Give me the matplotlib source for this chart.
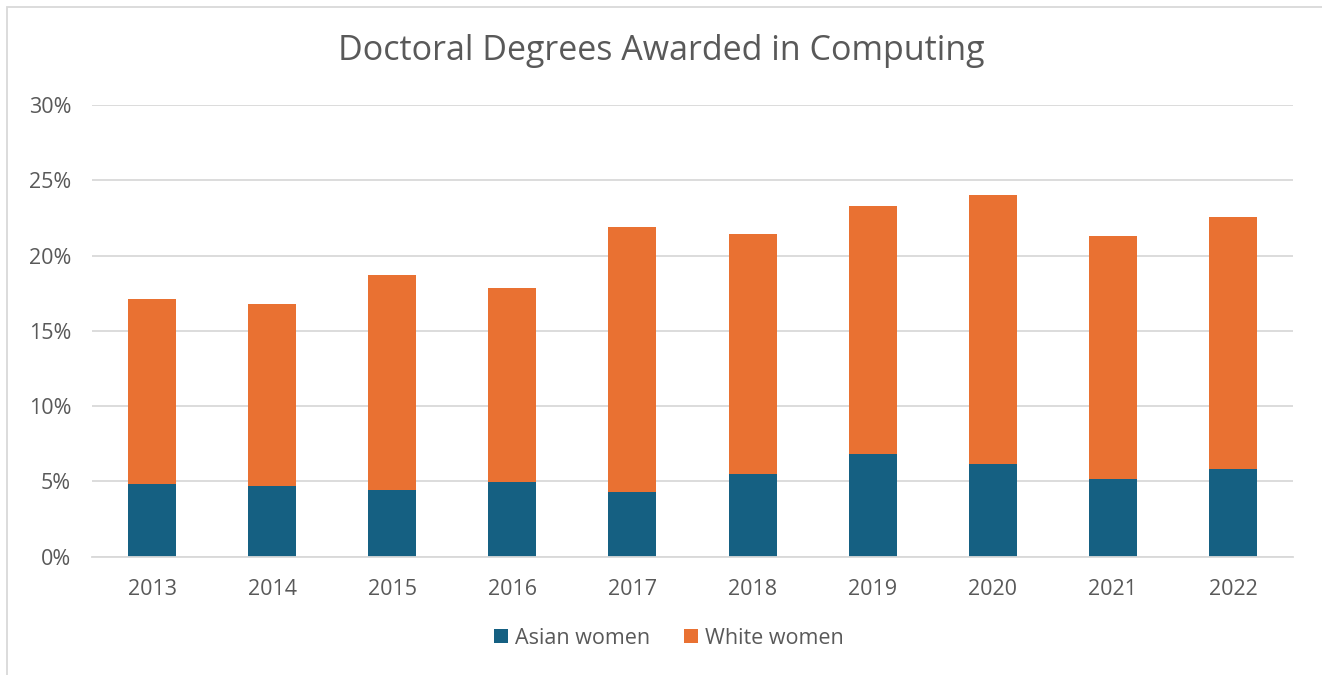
import numpy as np
import matplotlib
matplotlib.use('Agg')
import matplotlib.pyplot as plt
from matplotlib.patches import Rectangle
from matplotlib.ticker import PercentFormatter

# Share of doctoral degrees in computing (percent)
years = ['2013', '2014', '2015', '2016', '2017', '2018', '2019', '2020', '2021', '2022']
asian_women = [4.80, 4.67, 4.45, 4.96, 4.33, 5.47, 6.80, 6.13, 5.13, 5.80]
total_women = [17.11, 16.78, 18.71, 17.85, 21.89, 21.43, 23.27, 24.05, 21.33, 22.58]
white_women = [t - a for t, a in zip(total_women, asian_women)]

text_color = '#595959'
grid_color = '#D9D9D9'
plt.rcParams['font.family'] = ['Open Sans', 'DejaVu Sans']

fig = plt.figure(figsize=(13.22, 6.75), dpi=100)
ax = fig.add_axes([92 / 1322, 1 - 556.7 / 675, (1293 - 92) / 1322, (556.7 - 105) / 675])

x = np.arange(len(years))
ax.bar(x, asian_women, width=0.4, color='#156082', label='Asian women', zorder=3)
ax.bar(x, white_women, width=0.4, bottom=asian_women, color='#E97132', label='White women', zorder=3)

# Axes and grid styling
ax.set_xlim(-0.5, len(years) - 0.5)
ax.set_ylim(0, 30)
ax.set_yticks(np.arange(0, 31, 5))
ax.yaxis.set_major_formatter(PercentFormatter(decimals=0))
ax.set_xticks(x)
ax.set_xticklabels(years)
ax.yaxis.grid(True, color=grid_color, linewidth=1.3, zorder=0)
for side in ['top', 'right', 'left']:
    ax.spines[side].set_visible(False)
ax.spines['bottom'].set_color(grid_color)
ax.spines['bottom'].set_linewidth(1.3)
ax.spines['bottom'].set_zorder(4)
ax.tick_params(axis='both', length=0, labelsize=15.5, labelcolor=text_color)
ax.tick_params(axis='x', pad=16)
ax.tick_params(axis='y', pad=15)

fig.text(0.5, 1 - 51 / 675, 'Doctoral Degrees Awarded in Computing', ha='center', va='center',
         fontsize=24.5, color=text_color)

leg = fig.legend(loc='center', bbox_to_anchor=(669 / 1322, 1 - 638 / 675), ncol=2, frameon=False,
                 fontsize=15.5, handlelength=0.65, handleheight=0.65, handletextpad=0.3, columnspacing=1.6)
for t in leg.get_texts():
    t.set_color(text_color)

# Light chart-area border
fig.patches.append(Rectangle((7 / 1322, -0.05), 1.1, 1 - 7 / 675 + 0.05, transform=fig.transFigure,
                             fill=False, edgecolor=grid_color, linewidth=1.3))

fig.savefig('out.png', dpi=100, facecolor='white')
